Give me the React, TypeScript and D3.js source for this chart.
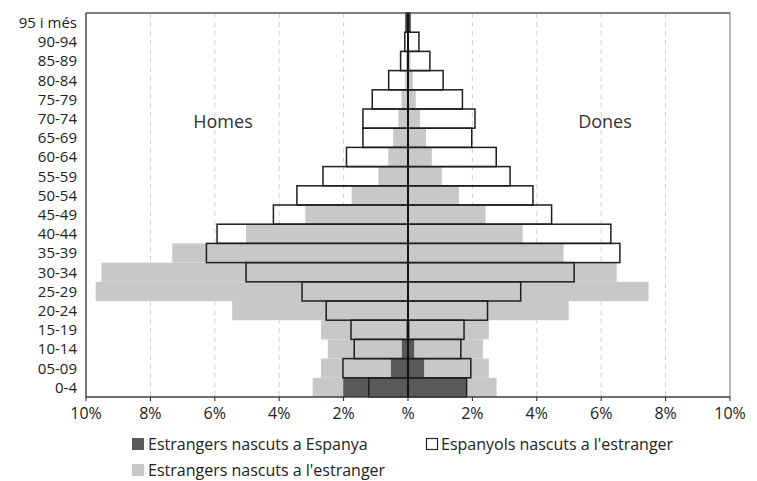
import React from 'react'
import { scaleLinear, scaleBand, range } from 'd3'

const WIDTH = 757
const HEIGHT = 481
const M = { left: 86, right: 27, top: 13, bottom: 84 }

// age groups, bottom to top
const ages = ['0-4', '05-09', '10-14', '15-19', '20-24', '25-29', '30-34', '35-39', '40-44', '45-49',
  '50-54', '55-59', '60-64', '65-69', '70-74', '75-79', '80-84', '85-89', '90-94', '95 i més']

// Espanyols nascuts a l'estranger (outlined)
const menSpainAbroad = [1.22, 2.02, 1.67, 1.77, 2.54, 3.29, 5.03, 6.26, 5.93, 4.18,
  3.45, 2.64, 1.91, 1.40, 1.40, 1.11, 0.60, 0.23, 0.10, 0.06]
const womenSpainAbroad = [1.82, 1.95, 1.64, 1.74, 2.47, 3.50, 5.16, 6.58, 6.30, 4.46,
  3.88, 3.17, 2.74, 1.98, 2.08, 1.69, 1.09, 0.68, 0.34, 0.06]

// Estrangers nascuts a l'estranger (light grey)
const menForeignAbroad = [2.96, 2.70, 2.49, 2.70, 5.46, 9.70, 9.52, 7.32, 5.03, 3.19,
  1.75, 0.92, 0.61, 0.46, 0.30, 0.20, 0.09, 0.06, 0.02, 0]
const womenForeignAbroad = [2.75, 2.51, 2.33, 2.51, 4.99, 7.47, 6.48, 4.83, 3.56, 2.41,
  1.58, 1.05, 0.74, 0.56, 0.37, 0.24, 0.15, 0.08, 0.03, 0]

// Estrangers nascuts a Espanya (dark grey)
const menForeignSpain = [2.01, 0.53, 0.19, 0.05, 0, 0, 0, 0, 0, 0, 0, 0, 0, 0, 0, 0, 0, 0, 0, 0]
const womenForeignSpain = [1.80, 0.50, 0.19, 0.05, 0, 0, 0, 0, 0, 0, 0, 0, 0, 0, 0, 0, 0, 0, 0, 0]

const ticks = [-10, -8, -6, -4, -2, 0, 2, 4, 6, 8, 10]
const tickLabel = (t: number) => (t === 0 ? '%' : `${Math.abs(t)}%`)

const DARK = '#595959'
const LIGHT = '#c8c8c8'
const FONT = '"Open Sans", sans-serif'

const App = () => {
  const x = scaleLinear().domain([-10, 10]).range([M.left, WIDTH - M.right])
  const y = scaleBand().domain([...ages].reverse()).range([M.top, HEIGHT - M.bottom]).padding(0)
  const bottom = HEIGHT - M.bottom

  const bars = (men: number[], women: number[], fill: string, stroke?: string) =>
    range(ages.length).flatMap(i => {
      const yy = y(ages[i]) as number
      const h = y.bandwidth()
      return [
        <rect key={`m${i}`} x={x(-men[i])} y={yy} width={x(0) - x(-men[i])} height={h}
          fill={fill} stroke={stroke || 'none'} strokeWidth={stroke ? 1.5 : 0} />,
        <rect key={`w${i}`} x={x(0)} y={yy} width={x(women[i]) - x(0)} height={h}
          fill={fill} stroke={stroke || 'none'} strokeWidth={stroke ? 1.5 : 0} />,
      ]
    })

  return (
    <svg width={WIDTH} height={HEIGHT} style={{ display: 'block' }} fontFamily={FONT}>
      <style>{`body{margin:0}`}</style>
      <rect width={WIDTH} height={HEIGHT} fill="white" />

      <g data-grid>
        {ticks.filter(t => Math.abs(t) !== 10 && t !== 0).map(t => (
          <line key={t} x1={x(t)} x2={x(t)} y1={M.top} y2={bottom}
            stroke="#d0d0d0" strokeWidth={1} strokeDasharray="5,4" />
        ))}
      </g>

      <g data-bars>
        {bars(menForeignAbroad, womenForeignAbroad, LIGHT)}
        {bars(menForeignSpain, womenForeignSpain, DARK)}
        {bars(menSpainAbroad, womenSpainAbroad, 'none', '#1e1e1e')}
      </g>

      <rect x={x(-10)} y={M.top} width={x(10) - x(-10)} height={bottom - M.top}
        fill="none" stroke="#777" strokeWidth={1} />
      <line x1={x(-10)} x2={x(-10)} y1={M.top} y2={bottom} stroke="#333" />
      <line x1={x(-10)} x2={x(10)} y1={M.top} y2={M.top} stroke="#444" />
      <line x1={x(0)} x2={x(0)} y1={M.top} y2={bottom} stroke="#111" strokeWidth={2} />

      <g data-x-axis transform={`translate(0, ${bottom})`}>
        <line x1={x(-10)} x2={x(10)} y1={0} y2={0} stroke="#222" strokeWidth={1.2} />
        {ticks.map(t => (
          <g key={t} transform={`translate(${x(t)}, 0)`}>
            <line y1={0} y2={4} stroke="#222" />
            <text y={22} textAnchor="middle" fontSize={16} fill="#222">{tickLabel(t)}</text>
          </g>
        ))}
      </g>

      <g data-y-axis>
        {ages.map(a => (
          <text key={a} x={77} y={(y(a) as number) + y.bandwidth() / 2} dy="0.36em"
            textAnchor="end" fontSize={15} fill="#222">{a}</text>
        ))}
      </g>

      <text x={223} y={128} textAnchor="middle" fontSize={18} fill="#333">Homes</text>
      <text x={605} y={128} textAnchor="middle" fontSize={18} fill="#333">Dones</text>

      <g data-legend fontSize={16} fill="#222">
        <rect x={132} y={438} width={12} height={12} fill={DARK} />
        <text x={148} y={450}>Estrangers nascuts a Espanya</text>
        <rect x={426.5} y={438.5} width={11} height={11} fill="white" stroke="#222" strokeWidth={1.2} />
        <text x={441} y={450}>Espanyols nascuts a l'estranger</text>
        <rect x={132} y={464} width={12} height={12} fill={LIGHT} />
        <text x={148} y={476}>Estrangers nascuts a l'estranger</text>
      </g>
    </svg>
  )
}

export default App
